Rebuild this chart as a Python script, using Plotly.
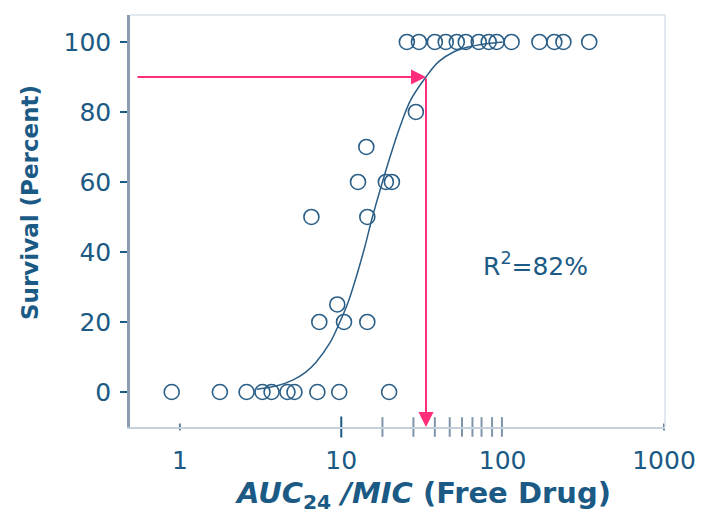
import numpy as np
import plotly.graph_objects as go

# Observed survival (%) against free-drug AUC24/MIC
auc_mic = [0.89, 1.77, 2.59, 3.25, 3.70, 4.64, 5.13, 7.11, 9.72, 19.8,
           7.31, 10.4, 14.5, 9.45,
           6.53, 14.5,
           12.7, 18.9, 20.6,
           14.3, 29.0,
           25.5, 30.3, 38.0, 44.4, 52.0, 59.1, 71.1, 82.0, 91.8, 113.6,
           169.0, 209.0, 238.0, 344.0]
survival = [0, 0, 0, 0, 0, 0, 0, 0, 0, 0,
            20, 20, 20, 25,
            50, 50,
            60, 60, 60,
            70, 80,
            100, 100, 100, 100, 100, 100, 100, 100, 100, 100,
            100, 100, 100, 100]

# Fitted sigmoid
fit_x = [3.0, 4.0, 5.0, 6.0, 7.0, 8.5, 9.7, 11.0, 12.5, 14.0, 15.6, 18.0,
         20.0, 23.0, 27.0, 33.5, 40.0, 50.0, 62.0, 80.0, 100.0]
fit_y = [0.8, 1.8, 3.4, 5.6, 8.6, 14.0, 19.5, 25.5, 33.5, 41.5, 50.0, 60.0,
         67.0, 75.5, 83.5, 90.0, 94.3, 97.2, 98.6, 99.5, 100.0]

# Marks along the x axis
rug_major = [10]
rug_ticks = [18, 28, 38, 47, 56, 65, 74, 86, 99]
rug_small = [1, 1000]

# Reading of the 90 % survival target
target_survival = 90
target_ratio = 33.5
arrow_start = 0.535

x_ticks = [1, 10, 100, 1000]
y_ticks = [0, 20, 40, 60, 80, 100]

INK = "#1B5A85"
MARK = "#2A5E86"
PINK = "#FF2D7A"
FRAME = "#D8E0E8"
Y_MIN, Y_MAX = -10, 107.7

fig = go.Figure()

fig.add_trace(go.Scatter(
    x=fit_x, y=fit_y, mode="lines", line=dict(color=MARK, width=1.5, shape="spline"),
    hoverinfo="skip", showlegend=False))

fig.add_trace(go.Scatter(
    x=auc_mic, y=survival, mode="markers",
    marker=dict(symbol="circle-open", size=15, color=MARK, line=dict(width=1.6)),
    showlegend=False))

# axis rug marks
fig.add_trace(go.Scatter(
    x=rug_ticks, y=[Y_MIN] * len(rug_ticks), mode="markers", cliponaxis=False,
    marker=dict(symbol="line-ns", size=14, line=dict(color="#7F95AB", width=2)),
    hoverinfo="skip", showlegend=False))
fig.add_trace(go.Scatter(
    x=rug_major, y=[Y_MIN] * len(rug_major), mode="markers", cliponaxis=False,
    marker=dict(symbol="line-ns", size=15, line=dict(color=INK, width=2)),
    hoverinfo="skip", showlegend=False))
fig.add_trace(go.Scatter(
    x=rug_small, y=[Y_MIN] * len(rug_small), mode="markers", cliponaxis=False,
    marker=dict(symbol="line-ns", size=5, line=dict(color="#5E7E9C", width=2)),
    hoverinfo="skip", showlegend=False))

# target arrows (annotation x on a log axis is in log10 units)
fig.add_annotation(
    x=np.log10(target_ratio), y=target_survival,
    ax=np.log10(arrow_start), ay=target_survival, axref="x", ayref="y",
    showarrow=True, arrowhead=2, arrowsize=1.5, arrowwidth=2, arrowcolor=PINK, text="")
fig.add_annotation(
    x=np.log10(target_ratio), y=Y_MIN,
    ax=np.log10(target_ratio), ay=target_survival, axref="x", ayref="y",
    showarrow=True, arrowhead=2, arrowsize=1.5, arrowwidth=2, arrowcolor=PINK, text="")

fig.add_annotation(
    x=np.log10(160), y=36.5, text="R<sup>2</sup>=82%", showarrow=False,
    font=dict(family="DejaVu Sans", size=25, color=INK))

# axis titles
fig.add_annotation(
    xref="paper", yref="paper", x=0.547, y=-0.165, xanchor="center", yanchor="middle",
    text="<b><i>AUC</i><sub>24</sub><i> /MIC</i> (Free Drug)</b>", showarrow=False,
    font=dict(family="DejaVu Sans", size=29, color=INK))
fig.add_annotation(
    xref="paper", yref="paper", x=-0.186, y=0.545, xanchor="center", yanchor="middle",
    textangle=-90, text="<b>Survival (Percent)</b>", showarrow=False,
    font=dict(family="DejaVu Sans", size=23, color=INK))

# top and right edges of the plot frame
fig.add_shape(type="line", xref="paper", yref="paper", x0=1, x1=1, y0=0, y1=1,
              line=dict(color=FRAME, width=1.5))
fig.add_shape(type="line", xref="paper", yref="paper", x0=0, x1=1, y0=1, y1=1,
              line=dict(color=FRAME, width=1.5))

fig.update_layout(
    width=708, height=515,
    margin=dict(l=130, r=41, t=15, b=88),
    paper_bgcolor="white", plot_bgcolor="white",
    font=dict(family="DejaVu Sans", color=INK),
    xaxis=dict(
        type="log", range=[-0.309, 3.006],
        tickvals=x_ticks, ticktext=[str(v) for v in x_ticks],
        ticks="", ticklabelstandoff=10,
        tickfont=dict(size=25, color=INK),
        showgrid=False, zeroline=False,
        showline=True, linecolor="#C5D0DA", linewidth=1.5,
    ),
    yaxis=dict(
        range=[Y_MIN, Y_MAX],
        tickvals=y_ticks, ticks="outside", ticklen=7, tickwidth=2, tickcolor=INK,
        tickfont=dict(size=25, color=INK), ticklabelstandoff=4,
        showgrid=False, zeroline=False,
        showline=True, linecolor="#8A9CB0", linewidth=2.5,
    ),
)

fig.write_html("out.html")
